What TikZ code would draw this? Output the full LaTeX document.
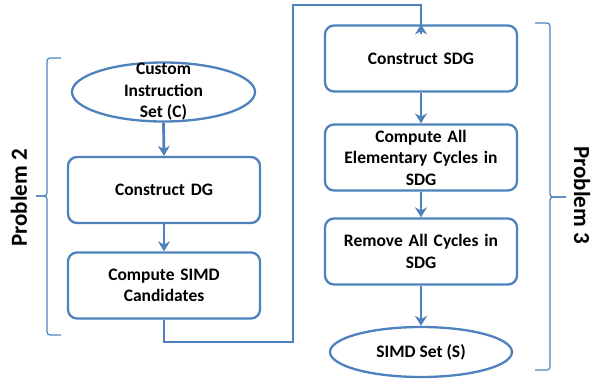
\documentclass[tikz,border=0pt]{standalone}
\usepackage{fontspec}
\setmainfont{Carlito}
\usetikzlibrary{shapes.geometric,arrows.meta}
\definecolor{ob}{HTML}{4F81BD}
\begin{document}
\begin{tikzpicture}[x=1pt,y=-1pt,
  txt/.style={font=\bfseries\fontsize{17.5}{21.5}\selectfont, text=black, align=center},
  box/.style={txt, draw=ob, line width=2.3pt, rounded corners=9pt, minimum width=192pt, minimum height=66pt, inner sep=2pt, text width=186pt},
  ell/.style={draw=ob, line width=2.3pt, ellipse, inner sep=0pt},
  arr/.style={draw=ob, line width=2.8pt, -{Stealth[length=10pt,width=12pt]}},
  conn/.style={draw=ob, line width=2.8pt},
  brace/.style={draw=ob, line width=1.2pt, rounded corners=3pt},
  lab/.style={font=\bfseries\fontsize{23}{27}\selectfont, text=black}]
\useasboundingbox (0,0) rectangle (595,378);
% left column
\node[ell, minimum width=183pt, minimum height=59pt] (ci) at (163.5,92) {};
\node[txt] (citxt) at (163.5,92) {Custom\\Instruction\\Set (C)};
\node[box] (dg) at (164,190) {Construct DG};
\node[box] (cs) at (164,285.5) {Compute SIMD\\Candidates};
% right column
\node[box] (sdg) at (421,58.5) {Construct SDG};
\node[box] (cyc) at (421,157.5) {Compute All\\Elementary Cycles in\\SDG};
\node[box] (rem) at (421,251.5) {Remove All Cycles in\\SDG};
\node[ell, minimum width=182pt, minimum height=50pt, txt] (ss) at (421,352) {SIMD Set (S)};
% arrows
\draw[arr] (ci.south) -- (dg.north);
\draw[arr] (dg.south) -- (cs.north);
\draw[arr] (sdg.south) -- (cyc.north);
\draw[arr] (cyc.south) -- (rem.north);
\draw[arr] (rem.south) -- (ss.north);
\coordinate (c1) at (293,342);
\coordinate (c2) at (293,5);
\draw[conn] (cs.south) |- (c1) -- (c2) -| ([yshift=-8pt]sdg.north);
\draw[arr] ([yshift=-10pt]sdg.north) -- (sdg.north);
% braces
\draw[brace] (61,58) -- (47,58) -- (47,196) -- (36,196);
\draw[brace] (36,196) -- (47,196) -- (47,335) -- (61,335);
\draw[brace] (535,23) -- (550,23) -- (550,197) -- (566,197);
\draw[brace] (566,197) -- (550,197) -- (550,370) -- (535,370);
% labels
\node[lab, rotate=90] (p2) at (19,198) {Problem 2};
\node[lab, rotate=-90] (p3) at (582,195) {Problem 3};
\end{tikzpicture}
\end{document}
